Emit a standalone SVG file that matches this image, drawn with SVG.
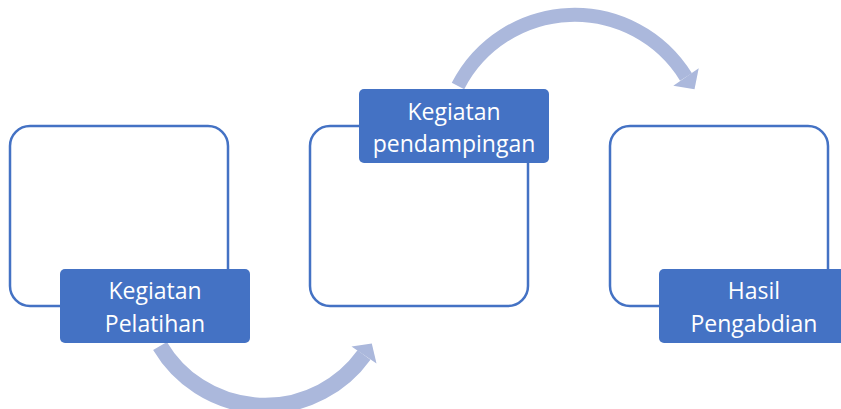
<svg xmlns="http://www.w3.org/2000/svg" width="841" height="409" viewBox="0 0 841 409">
<style>
.frame{fill:#fff;stroke:#4472C4;stroke-width:2.5}
.label{fill:#4472C4}
.txt{fill:#fff;font-family:"Open Sans","Noto Sans",sans-serif;font-size:23px;text-anchor:middle}
.shaft{fill:none;stroke:#ABB8DC}
.head{fill:#ABB8DC}
</style>
<rect width="841" height="409" fill="#fff"/>
<g id="connectors">
<path class="shaft" stroke-width="16" d="M160,346 A122,122 0 0 0 364,355"/>
<polygon class="head" points="376.5,363.4 351.5,346.6 371.8,343.4"/>
<path class="shaft" stroke-width="14" d="M458,86 A131,131 0 0 1 686,77"/>
<polygon class="head" points="698.7,68.2 673.3,85.8 694.5,89.3"/>
</g>
<g id="node1">
<rect class="frame" x="10" y="126" width="218" height="180" rx="20"/>
<rect class="label" x="60" y="269" width="190" height="74" rx="5"/>
<text class="txt" x="155" y="299">Kegiatan</text>
<text class="txt" x="155" y="332">Pelatihan</text>
</g>
<g id="node2">
<rect class="frame" x="310" y="126" width="218" height="180" rx="20"/>
<rect class="label" x="359" y="89" width="190" height="74" rx="5"/>
<text class="txt" x="454" y="120">Kegiatan</text>
<text class="txt" x="454" y="152">pendampingan</text>
</g>
<g id="node3">
<rect class="frame" x="610" y="126" width="218" height="180" rx="20"/>
<rect class="label" x="659" y="269" width="190" height="74" rx="5"/>
<text class="txt" x="754" y="299">Hasil</text>
<text class="txt" x="754" y="332">Pengabdian</text>
</g>
</svg>
